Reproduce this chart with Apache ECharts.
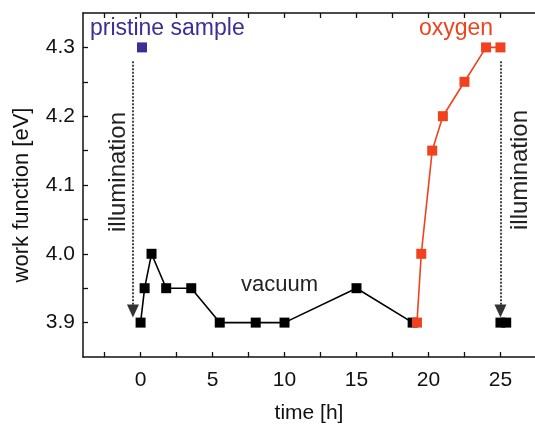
<!DOCTYPE html>
<html><head><meta charset="utf-8">
<script src="https://cdn.jsdelivr.net/npm/echarts@6/dist/echarts.min.js"></script>
<style>html,body{margin:0;padding:0;overflow:hidden;background:#fff}#c{width:535px;height:424px}</style>
</head><body><div id="c"></div>
<script>
// Data
const vacuumTime = [0, 0.28, 0.76, 1.78, 3.52, 5.5, 8, 10, 15, 18.9];
const vacuumWF   = [3.90, 3.95, 4.00, 3.95, 3.95, 3.90, 3.90, 3.90, 3.95, 3.90];
const oxygenTime = [19.2, 19.5, 20.26, 21.0, 22.5, 24.0, 25.0];
const oxygenWF   = [3.90, 4.00, 4.15, 4.20, 4.25, 4.30, 4.30];
const pristineTime = [0.1];
const pristineWF   = [4.30];
const finalTime = [25.0, 25.4];
const finalWF   = [3.90, 3.90];
const xTickValues = [-2.5, 0, 2.5, 5, 7.5, 10, 12.5, 15, 17.5, 20, 22.5, 25];
const xLabelValues = [0, 5, 10, 15, 20, 25];
const yTickValues = [3.9, 3.95, 4.0, 4.05, 4.1, 4.15, 4.2, 4.25, 4.3];
const yLabelValues = [3.9, 4.0, 4.1, 4.2, 4.3];
const arrowX = [-0.53, 25.0];
const arrowTop = 4.28, arrowTip = 3.917;

const zip = (a, b) => a.map((v, i) => [v, b[i]]);
const FONT = 'Liberation Sans, Arial, sans-serif';
const ORANGE = '#f0421f', PURPLE = '#3a2f98';

const chart = echarts.init(document.getElementById('c'), null, {renderer: 'canvas'});
chart.setOption({
  animation: false,
  grid: {left: 83, right: 0, top: 13, bottom: 67, containLabel: false, outerBoundsMode: 'none', show: false},
  xAxis: [{
    type: 'value', min: -4, max: 27.4, position: 'bottom',
    axisLine: {show: true, onZero: false, lineStyle: {color: '#111', width: 1.5}},
    splitLine: {show: false}, minorSplitLine: {show: false},
    axisTick: {show: true, inside: true, length: 5, lineStyle: {color: '#111', width: 1.3}, customValues: xTickValues},
    axisLabel: {show: true, color: '#111', fontSize: 21, fontFamily: FONT, margin: 13, customValues: xLabelValues},
    name: 'time [h]', nameLocation: 'middle', nameGap: 46,
    nameTextStyle: {color: '#111', fontSize: 21, fontFamily: FONT}
  }, {
    type: 'value', min: -4, max: 27.4, position: 'top',
    axisLine: {show: true, onZero: false, lineStyle: {color: '#111', width: 1.5}},
    splitLine: {show: false}, minorSplitLine: {show: false},
    axisTick: {show: true, inside: true, length: 5, lineStyle: {color: '#111', width: 1.3}, customValues: xTickValues},
    axisLabel: {show: false}
  }],
  yAxis: [{
    type: 'value', min: 3.85, max: 4.35,
    axisLine: {show: true, onZero: false, lineStyle: {color: '#111', width: 1.5}},
    splitLine: {show: false}, minorSplitLine: {show: false},
    axisTick: {show: true, inside: true, length: 5, lineStyle: {color: '#111', width: 1.3}, customValues: yTickValues},
    axisLabel: {show: true, color: '#111', fontSize: 21, fontFamily: FONT, margin: 8, customValues: yLabelValues,
      formatter: v => v.toFixed(1)},
    name: 'work function [eV]', nameLocation: 'middle', nameGap: 50,
    nameTextStyle: {color: '#111', fontSize: 22, fontFamily: FONT, padding: [0, 20, 0, 0]}
  }],
  series: [
    {type: 'line', data: zip(vacuumTime, vacuumWF), symbol: 'rect', symbolSize: 10,
     itemStyle: {color: '#000'}, lineStyle: {color: '#000', width: 1.6}, z: 2,
     markLine: {
       silent: true, symbol: ['none', 'triangle'], symbolSize: [12, 13],
       lineStyle: {color: '#333', type: [2, 1.5], width: 1.8}, label: {show: false},
       data: arrowX.map(x => [{coord: [x, arrowTop]}, {coord: [x, arrowTip]}])
     }},
    {type: 'line', data: zip(finalTime, finalWF), symbol: 'rect', symbolSize: 10,
     itemStyle: {color: '#000'}, lineStyle: {width: 0}, z: 2},
    {type: 'line', data: zip(oxygenTime, oxygenWF), symbol: 'rect', symbolSize: 10,
     itemStyle: {color: ORANGE}, lineStyle: {color: ORANGE, width: 1.6}, z: 3},
    {type: 'scatter', data: zip(pristineTime, pristineWF), symbol: 'rect', symbolSize: 10,
     itemStyle: {color: PURPLE, opacity: 1}, z: 3}
  ],
  graphic: [
    {type: 'text', left: 90, top: 17, style: {text: 'pristine sample', fill: PURPLE, font: '23px ' + FONT}},
    {type: 'text', left: 419, top: 17, style: {text: 'oxygen', fill: ORANGE, font: '23px ' + FONT}},
    {type: 'text', left: 241, top: 274, style: {text: 'vacuum', fill: '#222', font: '22px ' + FONT}},
    {type: 'text', x: 118, y: 172, rotation: Math.PI / 2,
     style: {text: 'illumination', fill: '#222', font: '24px ' + FONT, align: 'center', verticalAlign: 'middle'}},
    {type: 'text', x: 520, y: 170, rotation: Math.PI / 2,
     style: {text: 'illumination', fill: '#222', font: '24px ' + FONT, align: 'center', verticalAlign: 'middle'}}
  ]
});
</script></body></html>
